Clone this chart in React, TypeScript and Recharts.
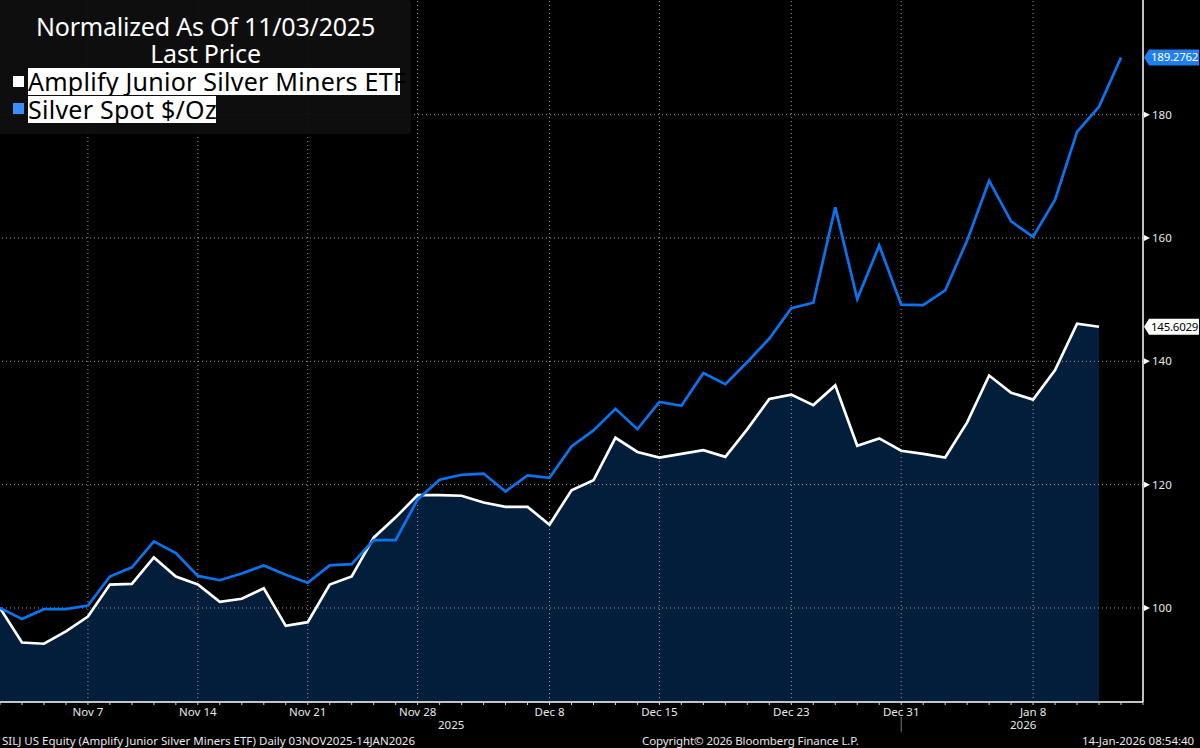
import { ComposedChart, Area, Line, XAxis, YAxis, ReferenceLine } from 'recharts';

const dates = [
  'Nov 3', 'Nov 4', 'Nov 5', 'Nov 6', 'Nov 7', 'Nov 10', 'Nov 11', 'Nov 12', 'Nov 13', 'Nov 14',
  'Nov 17', 'Nov 18', 'Nov 19', 'Nov 20', 'Nov 21', 'Nov 24', 'Nov 25', 'Nov 26', 'Nov 27', 'Nov 28',
  'Dec 1', 'Dec 2', 'Dec 3', 'Dec 4', 'Dec 5', 'Dec 8', 'Dec 9', 'Dec 10', 'Dec 11', 'Dec 12',
  'Dec 15', 'Dec 16', 'Dec 17', 'Dec 18', 'Dec 19', 'Dec 22', 'Dec 23', 'Dec 24', 'Dec 26', 'Dec 29',
  'Dec 30', 'Dec 31', 'Jan 1', 'Jan 2', 'Jan 5', 'Jan 6', 'Jan 7', 'Jan 8', 'Jan 9', 'Jan 12',
  'Jan 13', 'Jan 14', 'Jan 15',
];

const silj = [
  100, 94.4, 94.2, 96.2, 98.6, 103.8, 103.9, 108.2, 105.1, 103.8,
  101.0, 101.5, 103.2, 97.1, 97.7, 103.8, 105.1, 111.4, 114.7, 118.3,
  118.3, 118.2, 117.1, 116.4, 116.4, 113.5, 119.1, 120.7, 127.6, 125.3,
  124.4, 125.0, 125.6, 124.5, 129.0, 133.9, 134.6, 132.9, 136.1, 126.3,
  127.5, 125.5, 125.0, 124.4, 130.1, 137.7, 134.9, 133.8, 138.6, 146.1,
  145.6029, null, null,
];

const silver = [
  100, 98.2, 99.8, 99.8, 100.4, 105.1, 106.6, 110.8, 108.9, 105.2,
  104.5, 105.6, 106.9, 105.4, 104.1, 106.9, 107.1, 111.0, 111.0, 117.6,
  120.8, 121.6, 121.8, 118.9, 121.5, 121.1, 126.2, 128.8, 132.3, 129.0,
  133.4, 132.8, 138.1, 136.3, 139.9, 143.7, 148.6, 149.5, 165.0, 150.1,
  158.8, 149.2, 149.1, 151.5, 159.6, 169.3, 162.7, 160.2, 166.2, 177.2,
  181.3, 189.2762, null,
];

const xLabels = ['Nov 7', 'Nov 14', 'Nov 21', 'Nov 28', 'Dec 8', 'Dec 15', 'Dec 23', 'Dec 31', 'Jan 8'];
const yTicks = [100, 120, 140, 160, 180];
const lastValues = [
  { value: 145.6029, fill: '#ffffff', text: '#000000' },
  { value: 189.2762, fill: '#1f7ff0', text: '#ffffff' },
];

const data = dates.map((date, i) => ({ date, silj: silj[i], silver: silver[i] }));

const UI_FONT = '"Noto Sans", sans-serif';
const UI_SIZE = 11.5;
const LEGEND_TEXT = { fontFamily: UI_FONT, fontSize: 25, lineHeight: '27px' };
const GRID_COLOR = '#9a9a9a';

function XTick({ x, y, payload }: any) {
  const major = xLabels.includes(payload.value);
  return (
    <g>
      <line x1={x} x2={x} y1={y} y2={y + 3} stroke="#d0d0d0" />
      {major && (
        <text x={x} y={y + 14} textAnchor="middle" fill="#e8e8e8" fontSize={UI_SIZE} fontFamily={UI_FONT}>
          {payload.value}
        </text>
      )}
      {payload.value === 'Dec 31' && <line x1={x} x2={x} y1={y + 15} y2={y + 30} stroke="#777" />}
    </g>
  );
}

function YTick({ x, y, payload }: any) {
  const tag = lastValues.find((t) => t.value === payload.value);
  if (tag) {
    return (
      <g>
        <path
          d={`M${x + 1} ${y} L${x + 6} ${y - 8} H${x + 56} V${y + 8} H${x + 6} Z`}
          fill={tag.fill}
        />
        <text x={x + 8} y={y + 4} fill={tag.text} fontSize={UI_SIZE} letterSpacing={-0.25} fontFamily={UI_FONT}>
          {payload.value.toFixed(4)}
        </text>
      </g>
    );
  }
  return (
    <g>
      <path d={`M${x + 1} ${y - 3} L${x + 7} ${y} L${x + 1} ${y + 3} Z`} fill="#ffffff" />
      <text x={x + 9} y={y + 4} fill="#e8e8e8" fontSize={UI_SIZE} fontFamily={UI_FONT}>
        {payload.value}
      </text>
    </g>
  );
}

function Overlay({ left, top, style, children }: any) {
  return (
    <div style={{ position: 'absolute', left, top, whiteSpace: 'nowrap', ...style }}>{children}</div>
  );
}

const footText = { color: '#e8e8e8', fontFamily: UI_FONT, fontSize: UI_SIZE };

export default function App() {
  return (
    <div style={{ position: 'absolute', left: 0, top: 0, width: 1200, height: 748, background: '#000', overflow: 'hidden' }}>
      <ComposedChart width={1200} height={748} data={data} margin={{ top: 0, right: 0, bottom: 0, left: 0 }}>
        <XAxis
          dataKey="date"
          scale="point"
          padding={{ left: 0, right: 0 }}
          interval={0}
          height={46}
          tickLine={false}
          tickSize={0}
          tickMargin={0}
          axisLine={{ stroke: '#c4c4c4', strokeWidth: 2 }}
          tick={<XTick />}
        />
        <YAxis
          orientation="right"
          width={57}
          domain={[84.75, 198.6]}
          ticks={[...yTicks, ...lastValues.map((t) => t.value)]}
          interval={0}
          tickLine={false}
          tickSize={0}
          tickMargin={0}
          axisLine={{ stroke: '#ffffff', strokeWidth: 1.5 }}
          tick={<YTick />}
        />
        <Area dataKey="silj" type="linear" stroke="none" fill="#031e3b" fillOpacity={1} dot={false} activeDot={false} isAnimationActive={false} />
        {yTicks.map((v) => (
          <ReferenceLine key={v} y={v} stroke={GRID_COLOR} strokeDasharray="1 3" />
        ))}
        {xLabels.map((d) => (
          <ReferenceLine key={d} x={d} stroke={GRID_COLOR} strokeDasharray="1 3" />
        ))}
        <Line dataKey="silj" type="linear" stroke="#ffffff" strokeWidth={2.7} dot={false} activeDot={false} isAnimationActive={false} />
        <Line dataKey="silver" type="linear" stroke="#0a74f0" strokeWidth={2.7} dot={false} activeDot={false} isAnimationActive={false} />
      </ComposedChart>

      <div style={{ position: 'absolute', left: 0, top: 0, width: 411, height: 134, background: 'rgba(16,16,16,0.9)', borderRadius: '0 4px 4px 0' }} />
      <div style={{ position: 'absolute', left: 0, top: 13, width: 411, textAlign: 'center', color: '#fff', ...LEGEND_TEXT, letterSpacing: -0.2 }}>
        <div>Normalized As Of 11/03/2025</div>
        <div>Last Price</div>
      </div>
      <div style={{ position: 'absolute', left: 13, top: 76, width: 11, height: 11, background: '#fff' }} />
      <div style={{ position: 'absolute', left: 13, top: 103, width: 11, height: 11, background: '#3a8fff' }} />
      <Overlay left={28} top={68} style={{ width: 372, height: 27, background: '#fff', color: '#000', ...LEGEND_TEXT, letterSpacing: 0.25 }}>
        Amplify Junior Silver Miners ETF
      </Overlay>
      <Overlay left={28} top={96} style={{ width: 188, height: 27, background: '#fff', color: '#000', ...LEGEND_TEXT, letterSpacing: 0.25 }}>
        Silver Spot $/Oz
      </Overlay>

      <Overlay left={438} top={717} style={footText}>2025</Overlay>
      <Overlay left={1010} top={717} style={footText}>2026</Overlay>
      <Overlay left={2} top={733} style={footText}>
        SILJ US Equity (Amplify Junior Silver Miners ETF) Daily 03NOV2025-14JAN2026
      </Overlay>
      <Overlay left={642} top={733} style={{ ...footText, letterSpacing: -0.1 }}>
        Copyright© 2026 Bloomberg Finance L.P.
      </Overlay>
      <Overlay left={1082} top={733} style={footText}>
        14-Jan-2026 08:54:40
      </Overlay>
    </div>
  );
}
